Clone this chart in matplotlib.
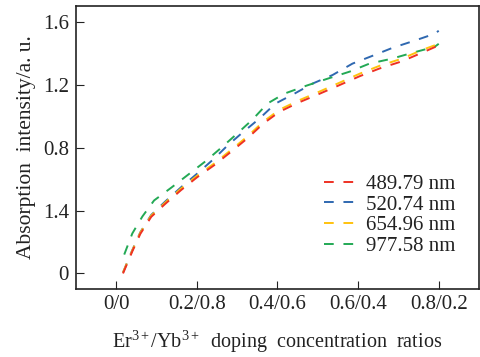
import matplotlib
matplotlib.use("Agg")
import matplotlib.pyplot as plt

plt.rcParams['font.family'] = ['Liberation Serif', 'DejaVu Serif']
plt.rcParams['mathtext.fontset'] = 'custom'
plt.rcParams['mathtext.rm'] = 'Liberation Serif'
plt.rcParams['mathtext.it'] = 'Liberation Serif:italic'
plt.rcParams['lines.scale_dashes'] = False

# Data
x_red = [0.017, 0.040, 0.060, 0.087, 0.122, 0.161, 0.201, 0.243, 0.286, 0.325,
         0.365, 0.405, 0.452, 0.504, 0.549, 0.604, 0.653, 0.708, 0.760, 0.800]
y_yellow = [0.006, 0.146, 0.260, 0.368, 0.451, 0.540, 0.622, 0.699, 0.787, 0.870,
            0.965, 1.041, 1.099, 1.156, 1.207, 1.270, 1.320, 1.365, 1.422, 1.460]
y_red = [0.000, 0.140, 0.252, 0.360, 0.443, 0.530, 0.612, 0.688, 0.776, 0.858,
         0.953, 1.028, 1.086, 1.142, 1.192, 1.254, 1.303, 1.348, 1.405, 1.450]

x_blue = [0.017, 0.040, 0.060, 0.087, 0.122, 0.161, 0.201, 0.243, 0.276, 0.313,
          0.355, 0.395, 0.442, 0.487, 0.537, 0.586, 0.636, 0.686, 0.740, 0.790, 0.800]
y_blue = [0.006, 0.148, 0.262, 0.372, 0.458, 0.548, 0.635, 0.730, 0.813, 0.895,
          0.984, 1.080, 1.143, 1.207, 1.262, 1.334, 1.384, 1.435, 1.480, 1.524, 1.543]

x_green = [0.020, 0.040, 0.065, 0.094, 0.137, 0.179, 0.221, 0.261, 0.300, 0.338,
           0.375, 0.417, 0.472, 0.524, 0.579, 0.628, 0.683, 0.735, 0.790, 0.800]
y_green = [0.120, 0.254, 0.362, 0.464, 0.546, 0.629, 0.712, 0.800, 0.889, 0.978,
           1.080, 1.143, 1.194, 1.238, 1.283, 1.334, 1.365, 1.403, 1.441, 1.460]

labels = ['489.79 nm', '520.74 nm', '654.96 nm', '977.58 nm']
colors = ['#ee3124', '#2f68b0', '#ffc20e', '#23a955']

xticks = [0.0, 0.2, 0.4, 0.6, 0.8]
xticklabels = ['0/0', '0.2/0.8', '0.4/0.6', '0.6/0.4', '0.8/0.2']
yticks = [0.0, 0.4, 0.8, 1.2, 1.6]
yticklabels = ['0', '1.4', '0.8', '1.2', '1.6']

fig = plt.figure(figsize=(4.8, 3.57), dpi=100)
ax = fig.add_axes([0.158, 0.190, 0.840, 0.793])

series = [(x_red, y_red), (x_blue, y_blue), (x_red, y_yellow), (x_green, y_green)]
order = [1, 3, 2, 0]
handles = [None] * 4
for i in order:
    xs, ys = series[i]
    ln, = ax.plot(xs, ys, color=colors[i], lw=1.4, dashes=(7, 7), label=labels[i])
    handles[i] = ln

ax.set_xlim(-0.1, 0.9)
ax.set_ylim(-0.1, 1.7)
ax.set_xticks(xticks)
ax.set_xticklabels(xticklabels)
ax.set_yticks(yticks)
ax.set_yticklabels(yticklabels)
ax.tick_params(direction='in', length=5.5, width=0.8, labelsize=15, colors='#222222',
               labelcolor='#222222')
ax.tick_params(axis='x', pad=4)
ax.tick_params(axis='y', pad=5)
for s in ax.spines.values():
    s.set_linewidth(1.2)
    s.set_color('#222222')

ax.set_xlabel('Er$^{3+}$/Yb$^{3+}$  doping  concentration  ratios', fontsize=14.5,
              color='#222222', labelpad=11)
ax.set_ylabel('Absorption  intensity/a. u.', fontsize=15.5, color='#222222', labelpad=5)

leg = ax.legend(handles=handles, labels=labels, loc='lower right',
                bbox_to_anchor=(0.962, 0.088), frameon=False, fontsize=15,
                handlelength=1.6, handletextpad=0.4, labelspacing=0.05,
                borderaxespad=0.0)
for t in leg.get_texts():
    t.set_color('#222222')

fig.savefig('out.png', dpi=100)
